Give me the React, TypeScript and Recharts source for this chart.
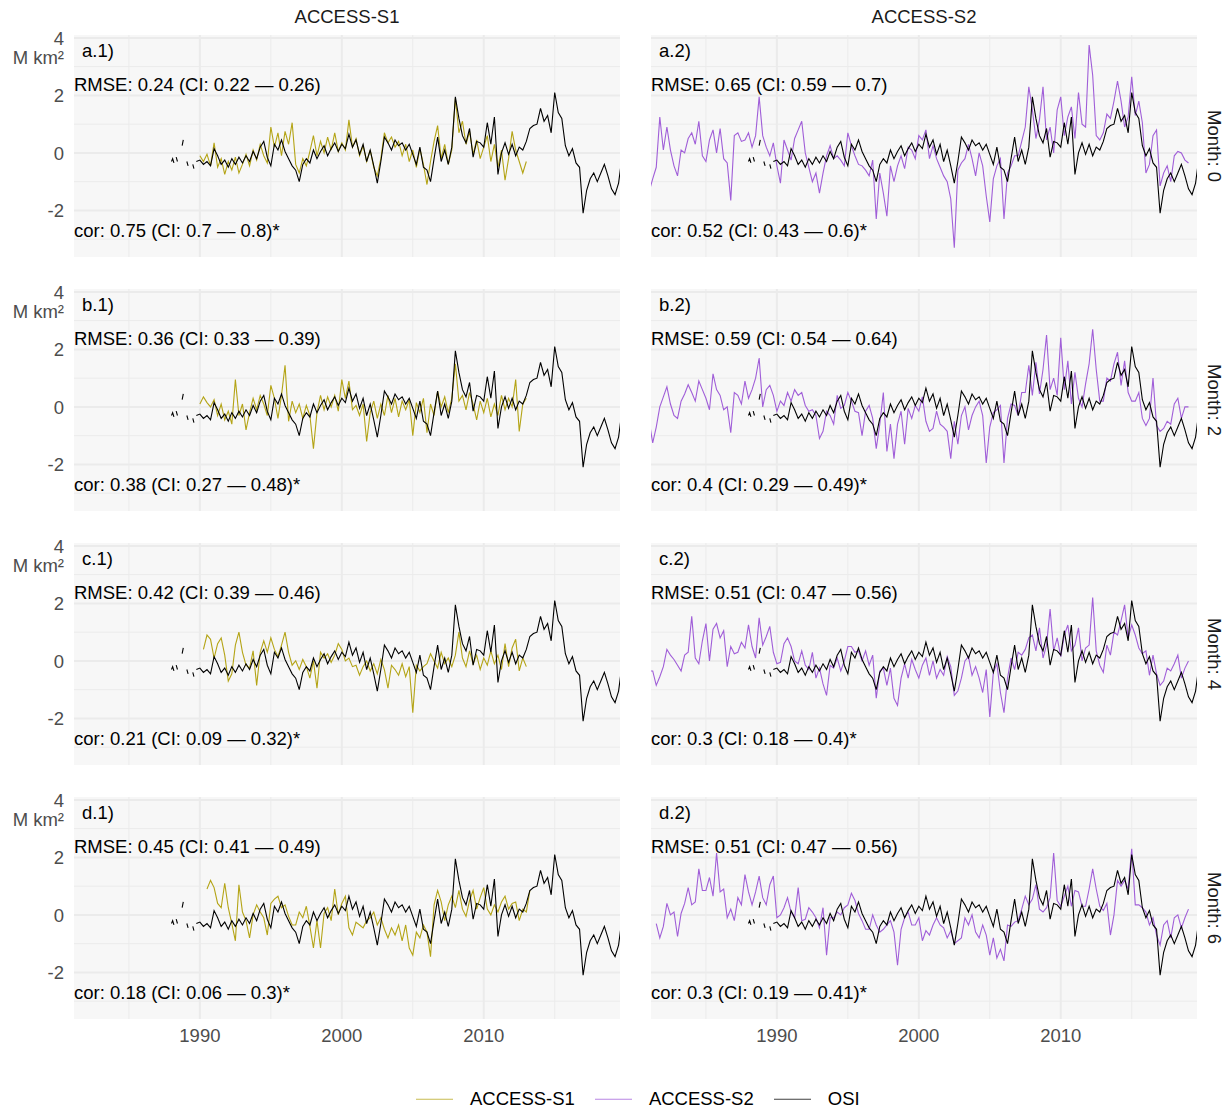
import React from 'react';
import { LineChart, Line, XAxis, YAxis, CartesianGrid } from 'recharts';

// ---- data (anomalies, M km²) ----

// OSI observations: the 1988-89 record has gaps, then quarterly from 1989.75
const OSI_EARLY_T = [1988.0, 1988.08, 1988.17, 1988.25, 1988.33, 1988.42, 1988.5, 1988.75, 1988.83, 1988.92, 1989.08, 1989.17, 1989.25, 1989.5, 1989.58, 1989.67];
const OSI_EARLY_V = [-0.3, -0.2, -0.35, null, -0.15, -0.3, null, 0.25, 0.45, null, -0.3, -0.45, null, -0.4, -0.55, null];
const OSI_START = 1989.75;
const OSI_Q = [
  -0.3,
  -0.25, -0.4, -0.3, -0.45, 0.15, -0.1, -0.4, -0.25, -0.5, -0.2, -0.4, -0.15, -0.35, -0.1, -0.3, 0.05,
  -0.2, 0.2, 0.4, -0.15, -0.45, 0.3, 0.1, 0.45, 0.05, -0.2, -0.45, -0.6, -1.0, -0.4, -0.2, -0.35,
  0.1, -0.2, 0.05, 0.25, -0.1, 0.15, 0.35, 0.05, 0.3, 0.15, 0.65, 0.2, 0.45, -0.05, 0.3, -0.3,
  0.1, -0.45, -1.05, -0.3, 0.55, 0.35, 0.1, 0.45, 0.25, 0.35, 0.1, 0.3, -0.05, -0.4, 0.2, -0.5,
  -0.6, -1.0, -0.2, 0.55, -0.3, 0.1, -0.4, 0.2, 1.95, 1.2, 0.6, 0.35, 0.85, -0.15, 0.4, 0.35,
  0.2, 1.05, 0.3, 1.25, -0.75, 0.0, 0.35, -0.05, 0.3, -0.1, 0.2, 0.1, 0.4, 0.85, 0.95, 1.0,
  1.55, 1.1, 1.3, 0.7, 2.1, 1.4, 1.2, 0.25, -0.1, 0.15, -0.35, -0.5, -2.1, -1.3, -0.9, -0.7,
  -1.0, -0.7, -0.4, -0.8, -1.25, -1.45, -1.05, -0.1,
];

// ACCESS-S1 hindcasts, quarterly, by lead month
const S1_START = [1990.0, 1990.0, 1990.25, 1990.5];
const S1_M0 = [
  -0.1, -0.3, -0.05, -0.45, 0.35, -0.5, -0.2, -0.75, -0.3, -0.6, -0.15, -0.7, -0.4, -0.05, -0.45, 0.1,
  -0.25, 0.3, -0.1, -0.35, 0.9, 0.2, 0.7, -0.1, 0.75, 0.3, 1.05, -0.4, -0.7, -0.2, -0.45, 0.05,
  0.6, -0.1, 0.4, 0.0, 0.55, 0.1, 0.7, 0.05, 0.35, 0.1, 1.15, 0.2, 0.5, -0.1, 0.25, -0.3,
  0.1, -0.5, -0.8, -0.2, 0.7, 0.35, 0.55, 0.2, 0.4, -0.1, 0.3, -0.3, 0.1, -0.5, 0.15, -0.4,
  -1.1, -0.3, 0.4, 0.95, -0.2, 0.3, -0.4, 0.1, 1.9, 0.7, 1.1, 0.3, 0.75, -0.05, 0.45, -0.2,
  0.2, 0.6, -0.3, 0.3, -0.5, 0.1, -0.95, -0.2, 0.75, 0.1, -0.3, -0.7, -0.3,
];
const S1_M2 = [
  0.1, 0.35, 0.15, 0.0, 0.25, -0.3, 0.1, -0.45, -0.15, -0.6, 0.95, -0.3, 0.1, -0.8, -0.2, 0.3,
  -0.1, 0.4, 0.1, -0.3, 0.75, 0.3, -0.4, 0.4, 1.45, -0.5, 0.2, -0.2, 0.1, -0.4, 0.05, -0.3,
  -1.45, -0.2, 0.4, -0.1, 0.35, 0.0, 0.4, -0.15, 0.95, 0.3, 0.9, -0.1, 0.05, -0.3, 0.1, -1.2,
  -0.2, 0.2, -0.4, 0.1, -0.3, 0.4, -0.2, 0.3, -0.35, 0.2, -0.1, 0.25, -1.0, 0.15, -0.2, 0.3,
  -0.9, 0.1, -0.3, 0.55, 0.0, 0.35, -0.2, 0.3, 1.5, 0.2, 0.4, -0.1, 0.5, 0.1, -0.45, 0.2,
  -0.2, 0.3, -0.35, 0.1, -0.3, 0.4, -0.1, 0.3, 0.0, 0.95, -0.85, 0.1, 0.3,
];
const S1_M4 = [
  0.4, 0.9, 0.75, 0.1, 0.6, 0.8, 0.2, -0.7, -0.45, 0.55, 1.0, 0.3, -0.15, -0.25, 0.35, -0.85,
  0.3, 0.7, 0.3, 0.8, 0.4, 0.15, 0.55, 1.0, 0.3, -0.15, 0.0, -0.3, 0.05, -0.2, -0.6, 0.0,
  -0.95, 0.3, 0.1, 0.25, -0.05, 0.2, 0.6, 0.4, 0.0, 0.1, -0.2, -0.15, -0.5, -0.2, 0.0, -0.35,
  -0.1, -0.45, 0.05, -0.3, -0.95, -0.15, -0.3, -0.5, -0.1, -0.55, -0.2, -1.8, -0.15, -0.35, -0.2, -0.1,
  0.25, 0.0, -0.25, 0.3, -0.1, 0.1, -0.2, 0.2, 1.0, 0.1, -0.2, 0.35, -0.1, 0.2, -0.3, 0.1,
  -0.15, 0.35, -0.1, 0.2, -0.3, 0.6, -0.2, 0.45, 0.75, -0.35, 0.1, -0.2,
];
const S1_M6 = [
  0.9, 1.2, 0.95, 0.4, 0.25, 1.1, 0.25, -0.3, -0.9, 1.05, 0.1, -0.2, -0.8, 0.0, 0.35, 0.1,
  -0.1, -0.7, 0.4, 0.55, 0.65, 0.25, 0.35, -0.05, -0.35, -0.35, 0.1, -0.1, 0.3, -0.4, -1.15, -0.2,
  -1.15, 0.05, 0.25, -0.2, 0.9, 0.0, 0.4, 0.65, -0.45, -0.7, -0.25, -0.35, -0.45, -0.2, -0.1, 0.1,
  -0.35, -0.1, -0.5, -0.8, -0.45, -0.7, -0.35, -0.9, -0.35, -1.15, -1.4, -0.6, -0.8, -0.35, -0.6, -1.45,
  0.35, 0.85, 0.45, -0.2, 0.35, 0.65, 0.25, 0.85, 0.2, -0.05, 0.5, 0.85, 0.2, 0.6, 0.95, 0.2,
  0.0, 0.35, 0.1, 0.45, 0.65, 0.2, 0.4, 0.45, -0.2, 0.2, 0.1, 0.85,
];

// ACCESS-S2 hindcasts, quarterly, by lead month
const S2_START = [1981.0, 1981.0, 1981.0, 1981.5];
const S2_M0 = [
  -1.35, -0.9, -0.5, 1.25, 0.1, 0.9, 0.1, -0.45, -0.8, 0.1, 0.0, 0.5, 0.7, 0.3, 1.1, -0.1,
  -0.3, 0.45, 0.8, 0.0, 0.85, -0.2, -0.35, -1.65, 0.6, 0.7, 0.4, 0.45, 0.7, 0.2, 0.6, 1.95,
  0.6, 0.2, -0.1, 0.35, -0.45, -1.05, 0.45, 0.1, -0.25, 0.5, 0.8, 1.1, 0.0, -0.5, -1.0, -0.7,
  -1.4, -0.7, -0.1, 0.25, -0.2, -0.1, -0.25, -0.45, 0.7, 0.25, -0.1, -0.4, -0.45, -0.6, -0.8, -0.25,
  -2.3, -0.7, -1.4, -2.2, -0.45, -1.0, -0.45, -0.1, -0.55, 0.2, 0.1, -0.2, 0.6, 0.45, 0.8, -0.2,
  0.25, -0.2, -0.5, -0.8, -1.0, -1.6, -3.3, -0.6, -0.35, -0.2, 0.3, -0.2, -0.8, 0.0, -0.45, -1.5,
  -2.4, -0.9, -0.45, -0.2, -2.3, -0.7, -0.45, -0.1, -0.1, 0.4, 0.9, 2.3, 1.5, 0.5, 1.15, 2.3,
  0.45, 0.9, 0.0, 1.5, 1.95, 0.6, 1.25, 1.6, 0.5, 2.1, 1.0, 0.9, 3.75, 2.7, 0.6, 0.45,
  0.7, 1.35, 1.2, 1.8, 2.5, 1.8, 0.9, 1.25, 2.65, 1.3, 1.8, 1.05, -0.7, -0.4, 0.6, 0.8,
  -1.15, -0.7, -0.45, -1.0, -0.1, 0.05, 0.0, -0.25, -0.35,
];
const S2_M2 = [
  -0.5, -1.25, -0.7, 0.0, 0.35, 0.7, 0.1, -0.3, -0.4, 0.2, 0.45, 0.77, 0.5, 0.2, 0.9, 0.6,
  0.3, -0.1, 1.15, 0.6, 0.4, -0.1, 0.0, -0.9, 0.5, 0.4, 0.1, 0.9, 0.3, 0.6, 1.0, 1.7,
  0.0, 0.6, 0.75, 0.4, -0.15, 0.2, 0.05, 0.5, 0.2, 0.6, 0.4, 0.5, 0.05, -0.15, -0.1, -0.3,
  -1.1, -0.85, -0.15, -0.3, -0.6, 0.4, -0.05, 0.05, 0.5, 0.2, -0.15, -0.2, -1.0, -0.15, 0.05, -0.4,
  -1.45, -0.6, 0.5, -1.55, -0.6, -1.8, -0.6, -0.15, -1.3, -0.05, -0.4, 0.05, -0.15, 0.35, -0.5, -0.85,
  -0.75, -0.15, -0.6, -0.7, -0.85, -1.8, -0.5, -1.3, -0.3, 0.0, -0.8, -0.3, 0.0, 0.2, -0.3, -1.95,
  -0.7, -0.2, -0.1, 0.05, -1.95, -0.4, 0.1, 0.05, -0.3, 0.5, 0.5, 1.45, 0.4, 1.55, 0.45, 1.3,
  2.5, 0.6, 1.0, 0.4, 2.4, 0.6, 1.6, 0.1, 1.2, 0.3, 0.0, 0.8, 1.5, 2.7, 1.3, 0.2,
  0.2, 1.0, 0.9, 1.5, 1.9, 0.75, 1.6, 0.5, 0.2, 0.2, 0.5, -0.4, -0.65, -0.4, 1.0, -0.65,
  -0.85, -0.75, -0.5, -0.6, 0.1, 0.3, -0.4, 0.0, 0.0,
];
const S2_M4 = [
  -0.35, -0.35, -0.85, -0.55, -0.2, 0.4, 0.2, 0.05, -0.15, -0.35, 0.2, 0.3, 1.55, 0.1, -0.1, 0.7,
  1.3, 0.0, 1.1, 1.3, 0.8, 1.05, -0.2, 0.5, 0.25, 0.3, 0.65, 0.45, 1.25, 0.5, 0.1, 1.5,
  0.55, 0.85, 1.2, 0.3, -0.1, -0.05, 0.6, 0.8, 0.5, 0.0, -0.1, 0.35, -0.15, -0.3, 0.3, -0.6,
  -0.25, -0.8, -1.2, -0.15, -0.25, 0.1, -0.35, 0.0, 0.5, 0.5, 0.3, 0.35, 0.0, 0.35, -0.15, 0.2,
  -1.3, -0.35, -0.25, -0.85, -0.25, -1.3, -1.55, -0.6, -0.1, -0.6, 0.05, -0.3, -0.6, -0.15, 0.1, -0.5,
  0.0, -0.6, -0.3, -0.5, 0.15, -0.2, -1.2, -1.05, -0.6, 0.0, 0.15, -0.5, -0.2, -0.6, -1.1, -0.3,
  -1.95, -0.4, -0.1, -1.1, -1.8, -0.6, 0.1, -0.3, 0.3, 0.2, 0.4, 0.8, 0.9, 0.35, 1.15, 0.1,
  0.55, 1.8, 0.35, 0.8, 0.15, 0.9, 1.25, 0.35, 0.55, 1.15, 0.0, 0.45, 0.55, 2.2, 0.35, -0.15,
  -0.4, 0.55, 0.2, 1.0, 0.9, 1.4, 1.95, 0.8, 1.25, 0.9, 0.45, 0.25, 0.35, -0.5, 0.2, -0.45,
  -0.85, -0.7, -0.25, -0.35, -0.1, 0.2, -0.6, -0.25, 0.0,
];
const S2_M6 = [
  -0.3, -0.8, -0.4, 0.4, 0.0, 0.1, -0.75, 0.05, 0.4, 0.95, 0.35, 0.45, 1.6, 0.85, 0.85, 1.3,
  0.65, 2.15, 0.8, 0.9, -0.1, 0.2, -0.2, 0.6, 0.35, 1.4, 0.8, 0.35, 0.8, 1.35, 0.6, 0.35,
  1.05, 1.35, -0.1, 0.0, 0.25, 0.6, 0.1, -0.1, 0.95, -0.2, -0.15, 0.25, 0.1, -0.1, -0.45, 0.25,
  -1.4, -0.1, -0.1, 0.1, 0.0, 0.25, 0.35, 0.75, 0.5, 0.05, -0.2, -0.5, -0.5, 0.0, -0.35, -0.6,
  -0.5, -0.35, -0.2, -0.6, -1.75, -0.5, -0.1, 0.1, -0.35, -0.35, -0.1, -0.9, -0.55, -0.7, -0.35, -0.1,
  -0.35, -0.45, -0.8, -0.55, -1.0, -0.9, -0.8, -0.1, -0.35, 0.0, -0.6, -0.8, -0.35, -0.7, -1.4, -0.8,
  -1.5, -1.2, -1.6, -0.35, -0.4, -0.25, -0.2, 0.2, 0.65, 0.35, 0.55, 1.05, 0.2, 0.1, 0.25, 0.6,
  2.15, 0.5, 0.3, 0.65, 1.0, 0.3, 0.85, 0.8, 0.3, 0.3, 0.9, 1.6, 0.9, 0.3, 0.15, 0.4,
  -0.7, 0.0, 1.2, 1.0, 1.2, 0.9, 2.3, 0.35, 0.35, 0.25, 0.1, -0.35, -0.1, -0.7, -1.05, -0.35,
  -0.2, -0.8, -0.1, 0.0, -0.45, -0.1, 0.2,
];

// skill scores: [value, CI low, CI high]
const RMSE_S1 = [[0.24, 0.22, 0.26], [0.36, 0.33, 0.39], [0.42, 0.39, 0.46], [0.45, 0.41, 0.49]];
const COR_S1 = [[0.75, 0.7, 0.8], [0.38, 0.27, 0.48], [0.21, 0.09, 0.32], [0.18, 0.06, 0.3]];
const RMSE_S2 = [[0.65, 0.59, 0.7], [0.59, 0.54, 0.64], [0.51, 0.47, 0.56], [0.51, 0.47, 0.56]];
const COR_S2 = [[0.52, 0.43, 0.6], [0.4, 0.29, 0.49], [0.3, 0.18, 0.4], [0.3, 0.19, 0.41]];

const ROW_TAGS = ['a', 'b', 'c', 'd'];
const LEADS = [0, 2, 4, 6];
const MODELS = ['ACCESS-S1', 'ACCESS-S2'];

const X_MAJOR = [1990, 2000, 2010];
const X_MINOR = [1985, 1995, 2005, 2015];
const Y_MAJOR = [-2, 0, 2, 4];
const Y_MINOR = [-3, -1, 1, 3];

// ---- look ----
const FONT = '"Liberation Sans", Arial, Helvetica, sans-serif';
const FS = 18.5;
const S1_COLOR = '#B4A416';
const S2_COLOR = '#A05ED8';
const OSI_COLOR = '#000000';
const AXIS_TEXT = '#4D4D4D';

const X_DOMAIN = [1981.13, 2019.6];
const Y_DOMAIN = [-3.62, 4.1];
const LEFT_PANEL_X = 74;
const PANEL_W = 546;
const RIGHT_PANEL_X = 651;
const PANEL_H = 222;
const ROW_TOP = [35, 289, 543, 797];
// room above each plot so the top tick label ("4") is not pushed inside the svg
const PAD_TOP = 20;

const quarterly = (start: number, vals: (number | null)[]) =>
  vals.map((v, i) => ({ t: start + i * 0.25, v }));

const OSI = [
  ...OSI_EARLY_T.map((t, i) => ({ t, v: OSI_EARLY_V[i] })),
  ...quarterly(OSI_START, OSI_Q),
];
const S1 = [S1_M0, S1_M2, S1_M4, S1_M6].map((v, i) => quarterly(S1_START[i], v));
const S2 = [S2_M0, S2_M2, S2_M4, S2_M6].map((v, i) => quarterly(S2_START[i], v));

const score = (label: string, s: number[], star = '') =>
  `${label}: ${s[0]} (CI: ${s[1]} \u2014 ${s[2]})${star}`;

const textStyle: React.CSSProperties = {
  position: 'absolute',
  fontFamily: FONT,
  fontSize: FS,
  lineHeight: 1,
  whiteSpace: 'nowrap',
  transform: 'translateY(-50%)',
  color: '#000',
};

// plain svg tick labels, placed at the coordinates the axis hands over
const YTick = ({ x, y, payload }: any) => (
  <text x={x} y={y} dy="0.36em" textAnchor="end" fill={AXIS_TEXT} fontSize={FS} fontFamily={FONT}>
    {payload.value}
  </text>
);
const XTick = ({ x, y, payload }: any) => (
  <text x={x} y={y} dy="0.72em" textAnchor="middle" fill={AXIS_TEXT} fontSize={FS} fontFamily={FONT}>
    {payload.value}
  </text>
);

function Panel({ row, col }: { row: number; col: number }) {
  const isLeft = col === 0;
  const isBottom = row === ROW_TOP.length - 1;
  const top = ROW_TOP[row];
  const chartLeft = isLeft ? 0 : RIGHT_PANEL_X;
  const chartW = isLeft ? LEFT_PANEL_X + PANEL_W : PANEL_W;
  const chartH = PAD_TOP + PANEL_H + (isBottom ? 40 : 0);
  const model = isLeft ? S1[row] : S2[row];
  const color = isLeft ? S1_COLOR : S2_COLOR;
  const panelX = isLeft ? LEFT_PANEL_X : RIGHT_PANEL_X;
  const rmse = isLeft ? RMSE_S1[row] : RMSE_S2[row];
  const cor = isLeft ? COR_S1[row] : COR_S2[row];

  return (
    <>
      <div style={{ position: 'absolute', left: chartLeft, top: top - PAD_TOP, width: chartW, height: chartH }}>
        <LineChart width={chartW} height={chartH} margin={{ top: PAD_TOP, right: 0, bottom: 0, left: 0 }}>
          <CartesianGrid
            horizontalValues={Y_MINOR}
            verticalValues={X_MINOR}
            stroke="#EBEBEB"
            strokeWidth={1}
            fill="#F7F7F7"
          />
          <CartesianGrid
            horizontalValues={Y_MAJOR}
            verticalValues={X_MAJOR}
            stroke="#EBEBEB"
            strokeWidth={2}
          />
          <XAxis
            type="number"
            dataKey="t"
            domain={X_DOMAIN}
            allowDataOverflow
            ticks={X_MAJOR}
            hide={!isBottom}
            height={40}
            tickLine={false}
            axisLine={false}
            tickSize={0}
            tickMargin={10}
            tick={<XTick />}
          />
          <YAxis
            type="number"
            domain={Y_DOMAIN}
            allowDataOverflow
            ticks={Y_MAJOR}
            hide={!isLeft}
            width={LEFT_PANEL_X}
            tickLine={false}
            axisLine={false}
            tickSize={0}
            tickMargin={10}
            tick={<YTick />}
          />
          <Line
            data={model}
            dataKey="v"
            name={MODELS[col]}
            stroke={color}
            strokeWidth={1.1}
            dot={false}
            activeDot={false}
            isAnimationActive={false}
          />
          <Line
            data={OSI}
            dataKey="v"
            name="OSI"
            stroke={OSI_COLOR}
            strokeWidth={1.1}
            dot={false}
            activeDot={false}
            isAnimationActive={false}
          />
        </LineChart>
      </div>
      <div style={{ ...textStyle, left: panelX + 8, top: top + 16 }}>
        {`${ROW_TAGS[row]}.${col + 1})`}
      </div>
      <div style={{ ...textStyle, left: panelX, top: top + 50 }}>{score('RMSE', rmse)}</div>
      <div style={{ ...textStyle, left: panelX, top: top + 196 }}>{score('cor', cor, '*')}</div>
      {isLeft && (
        <div style={{ ...textStyle, left: 0, width: 64, textAlign: 'right', top: top + 23, color: AXIS_TEXT }}>
          M km²
        </div>
      )}
      {!isLeft && (
        <div
          style={{
            ...textStyle,
            left: RIGHT_PANEL_X + PANEL_W + 17,
            top: top + PANEL_H / 2,
            transform: 'translate(-50%, -50%) rotate(90deg)',
            color: '#1A1A1A',
          }}
        >
          {`Month: ${LEADS[row]}`}
        </div>
      )}
    </>
  );
}

const LEGEND = [
  { name: 'ACCESS-S1', color: S1_COLOR },
  { name: 'ACCESS-S2', color: S2_COLOR },
  { name: 'OSI', color: OSI_COLOR },
];

export default function App() {
  return (
    <div
      style={{
        position: 'absolute',
        left: 0,
        top: 0,
        width: 1232,
        height: 1111,
        background: '#FFFFFF',
        overflow: 'hidden',
        fontFamily: FONT,
      }}
    >
      {MODELS.map((m, c) => (
        <div
          key={m}
          style={{
            ...textStyle,
            top: 17,
            left: (c === 0 ? LEFT_PANEL_X : RIGHT_PANEL_X) + PANEL_W / 2,
            transform: 'translate(-50%, -50%)',
            color: '#1A1A1A',
          }}
        >
          {m}
        </div>
      ))}
      {ROW_TOP.map((_, r) =>
        [0, 1].map((c) => <Panel key={`${r}-${c}`} row={r} col={c} />)
      )}
      <div
        style={{
          position: 'absolute',
          left: 416,
          top: 1099,
          transform: 'translateY(-50%)',
          display: 'flex',
          alignItems: 'center',
          fontFamily: FONT,
          fontSize: FS,
          lineHeight: 1,
        }}
      >
        {LEGEND.map((it) => (
          <div key={it.name} style={{ display: 'flex', alignItems: 'center', marginRight: 20 }}>
            <div style={{ width: 37, height: 1.5, background: it.color, opacity: 0.75 }} />
            <span style={{ marginLeft: 17, whiteSpace: 'nowrap' }}>{it.name}</span>
          </div>
        ))}
      </div>
    </div>
  );
}
